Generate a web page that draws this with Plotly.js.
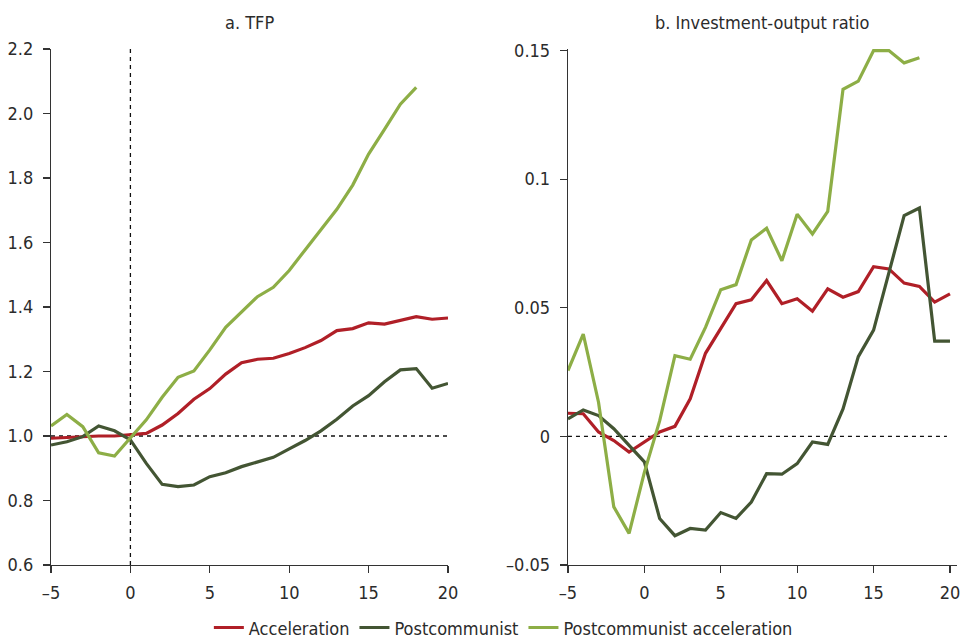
<!DOCTYPE html>
<html>
<head>
<meta charset="utf-8">
<script src="https://cdn.plot.ly/plotly-3.0.1.min.js"></script>
<style>html,body{margin:0;padding:0;background:#fff;}#chart{width:968px;height:638px;}</style>
</head>
<body>
<div id="chart"></div>
<script>
// Horizon (years relative to acceleration)
const years = [-5,-4,-3,-2,-1,0,1,2,3,4,5,6,7,8,9,10,11,12,13,14,15,16,17,18,19,20];

// Panel a: TFP (index, 1.0 at t=0)
const tfpAcceleration = [0.993,0.996,0.998,1.000,1.000,1.003,1.008,1.034,1.070,1.114,1.147,1.192,1.227,1.238,1.241,1.256,1.274,1.296,1.327,1.333,1.351,1.347,1.358,1.370,1.362,1.366];
const tfpPostcommunist = [0.972,0.982,0.998,1.031,1.016,0.988,0.915,0.850,0.843,0.848,0.874,0.886,0.905,0.920,0.934,0.960,0.986,1.016,1.052,1.093,1.125,1.168,1.205,1.209,1.148,1.163];
const tfpPostcommunistAcceleration = [1.031,1.067,1.029,0.948,0.938,0.993,1.050,1.120,1.182,1.202,1.267,1.337,1.386,1.432,1.461,1.513,1.577,1.639,1.703,1.778,1.874,1.951,2.029,2.081];

// Panel b: Investment-output ratio (change)
const invAcceleration = [0.0090,0.0088,0.0017,-0.0016,-0.0061,-0.0022,0.0017,0.0039,0.0146,0.0323,0.0420,0.0516,0.0531,0.0606,0.0516,0.0535,0.0487,0.0574,0.0541,0.0563,0.0660,0.0651,0.0596,0.0583,0.0522,0.0554];
const invPostcommunist = [0.0068,0.0103,0.0081,0.0030,-0.0035,-0.0099,-0.0319,-0.0386,-0.0358,-0.0364,-0.0296,-0.0319,-0.0255,-0.0145,-0.0147,-0.0106,-0.0022,-0.0031,0.0107,0.0310,0.0413,0.0640,0.0858,0.0888,0.0370,0.0370];
const invPostcommunistAcceleration = [0.0256,0.0398,0.0133,-0.0274,-0.0377,-0.0140,0.0060,0.0314,0.0300,0.0424,0.0570,0.0590,0.0764,0.0809,0.0683,0.0864,0.0787,0.0875,0.1349,0.1381,0.1500,0.1500,0.1452,0.1472];

const seriesNames = ["Acceleration","Postcommunist","Postcommunist acceleration"];
const panelTitles = ["a. TFP","b. Investment-output ratio"];
const xTickVals = [-5,0,5,10,15,20];
const xTickText = ["\u20135","0","5","10","15","20"];
const yTickValsA = [0.6,0.8,1.0,1.2,1.4,1.6,1.8,2.0,2.2];
const yTickTextA = ["0.6","0.8","1.0","1.2","1.4","1.6","1.8","2.0","2.2"];
const yTickValsB = [-0.05,0,0.05,0.1,0.15];
const yTickTextB = ["\u20130.05","0","0.05","0.1","0.15"];

const colors = ["#B01F27","#435533","#8DAE46"];
const FONT = "'Liberation Sans Narrow','Arial Narrow','DejaVu Sans Condensed',sans-serif";
const TXT = "#2b2b2b";

function tr(ser, i, xa, ya, show){
  return {x: years.slice(0, ser.length), y: ser, type:"scatter", mode:"lines",
    name: seriesNames[i], xaxis: xa, yaxis: ya, showlegend: show,
    line:{color: colors[i], width:3.2}, hoverinfo:"skip"};
}

const data = [
  tr(tfpAcceleration, 0, "x", "y", true),
  tr(tfpPostcommunist, 1, "x", "y", true),
  tr(tfpPostcommunistAcceleration, 2, "x", "y", true),
  tr(invAcceleration, 0, "x2", "y2", false),
  tr(invPostcommunist, 1, "x2", "y2", false),
  tr(invPostcommunistAcceleration, 2, "x2", "y2", false)
];

const axisCommon = {showgrid:false, zeroline:false, showline:true, linecolor:"#333", linewidth:1.2,
  ticks:"outside", ticklen:7, tickwidth:1.2, tickcolor:"#333",
  tickfont:{family:FONT, size:18, color:TXT}, fixedrange:true, automargin:false};

const layout = {
  width:968, height:638,
  margin:{l:51, r:11, t:49, b:73},
  paper_bgcolor:"#fff", plot_bgcolor:"#fff",
  font:{family:FONT, size:18, color:TXT},
  xaxis: Object.assign({}, axisCommon, {domain:[0,0.4382], range:[-5,20], tickvals:xTickVals, ticktext:xTickText, ticklabelstandoff:4, anchor:"y"}),
  yaxis: Object.assign({}, axisCommon, {domain:[0,1], range:[0.6,2.2], tickvals:yTickValsA, ticktext:yTickTextA, ticklabelstandoff:6, anchor:"x"}),
  xaxis2: Object.assign({}, axisCommon, {domain:[0.5706,1], range:[-5,20.46], tickvals:xTickVals, ticktext:xTickText, ticklabelstandoff:4, anchor:"y2"}),
  yaxis2: Object.assign({}, axisCommon, {domain:[0,1], range:[-0.05,0.1506], tickvals:yTickValsB, ticktext:yTickTextB, ticklabelstandoff:6, anchor:"x2"}),
  shapes:[
    {type:"line", xref:"x", yref:"y", x0:-5, x1:20, y0:1, y1:1, line:{color:"#111", width:1.3, dash:"4px,4px"}, layer:"below"},
    {type:"line", xref:"x", yref:"y", x0:0, x1:0, y0:0.6, y1:2.2, line:{color:"#111", width:1.3, dash:"4px,4px"}, layer:"below"},
    {type:"line", xref:"x2", yref:"y2", x0:-5, x1:19.8, y0:0, y1:0, line:{color:"#111", width:1.3, dash:"4px,4px"}, layer:"below"}
  ],
  annotations:[
    {text:panelTitles[0], xref:"x domain", yref:"paper", x:0.5, y:1.0504, xanchor:"center", yanchor:"middle", showarrow:false, font:{family:FONT, size:18, color:TXT}},
    {text:panelTitles[1], xref:"x2 domain", yref:"paper", x:0.5, y:1.0504, xanchor:"center", yanchor:"middle", showarrow:false, font:{family:FONT, size:18, color:TXT}}
  ],
  legend:{orientation:"h", xref:"container", x:0.52, xanchor:"center", yref:"container", y:0.016, yanchor:"middle", font:{family:FONT, size:18, color:TXT}, bgcolor:"rgba(0,0,0,0)", itemwidth:30},
  showlegend:true
};

Plotly.newPlot("chart", data, layout, {displayModeBar:false, staticPlot:true});
</script>
</body>
</html>
